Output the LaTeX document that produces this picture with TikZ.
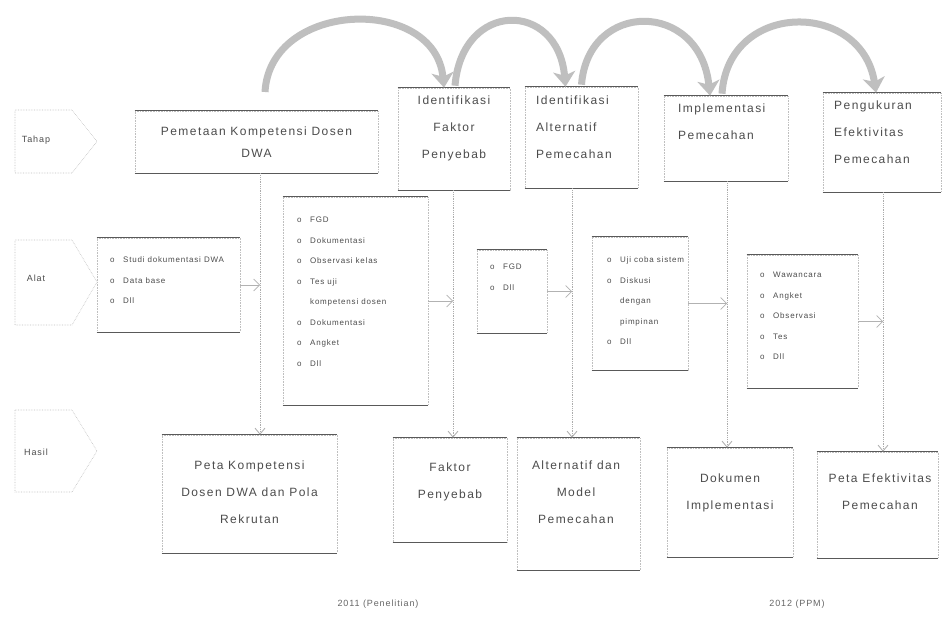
\documentclass[tikz,border=0pt]{standalone}
\usepackage{fontspec}
\setmainfont{Liberation Sans}
\newfontfamily\boxfont[LetterSpace=12]{Liberation Sans}
\newfontfamily\listfont[LetterSpace=10]{Liberation Sans}
\usetikzlibrary{arrows.meta}
\newcommand\lbul{\makebox[13pt][l]{o}}
\newcommand\lind{\hspace*{13pt}}
\begin{document}
\begin{tikzpicture}[x=1pt,y=-1pt,
  box/.style={draw=gray!50, densely dotted, line width=0.6pt, inner sep=0pt},
  edge/.style={draw=black!65, line width=1.1pt},
  btxt/.style={font={\boxfont\fontsize{12}{27}\selectfont}, text=black!70, inner sep=0pt, align=center, anchor=north},
  ltop/.style={font={\boxfont\fontsize{12}{27}\selectfont}, text=black!70, inner sep=0pt, align=left, anchor=north west},
  ltxt/.style={font={\listfont\fontsize{8}{20.5}\selectfont}, text=black!70, inner sep=0pt, align=left, anchor=north west},
  ptxt/.style={font={\listfont\fontsize{9}{11}\selectfont}, text=black!70, inner sep=0pt},
  capt/.style={font={\listfont\fontsize{9}{11}\selectfont}, text=black!60, inner sep=0pt},
  pent/.style={draw=gray!50, densely dotted, line width=0.6pt},
  vline/.style={draw=gray!65, densely dotted, line width=0.8pt, -{Straight Barb[length=6pt,width=10pt]}},
  harr/.style={draw=gray!60, line width=0.7pt, -{Straight Barb[length=6pt,width=12pt]}},
  curve/.style={draw=gray!50, line width=7pt, -{Stealth[length=15pt,width=22pt,inset=4pt]}}
]
\useasboundingbox (0,0) rectangle (943,618);
\fill[white] (0,0) rectangle (943,618);

% left pentagons
\draw[pent] (15,110) -- (72,110) -- (97,141.5) -- (72,173) -- (15,173) -- cycle;
\draw[pent] (15,240) -- (72,240) -- (97,282) -- (72,325) -- (15,325) -- cycle;
\draw[pent] (15,410) -- (72,410) -- (97,451) -- (72,492) -- (15,492) -- cycle;
\node[ptxt] (p1) at (36,140) {Tahap};
\node[ptxt] (p2) at (36,278) {Alat};
\node[ptxt] (p3) at (36,452) {Hasil};

% top row
\node[box, minimum width=243, minimum height=62] (t1) at (256.5,142) {};
\node[box, minimum width=112, minimum height=102] (t2) at (454,139) {};
\node[box, minimum width=113, minimum height=101] (t3) at (581.5,137.5) {};
\node[box, minimum width=124, minimum height=85] (t4) at (726,138.5) {};
\node[box, minimum width=118, minimum height=99] (t5) at (882,142.5) {};

% middle row
\node[box, minimum width=143, minimum height=94] (ma) at (168.5,285) {};
\node[box, minimum width=145, minimum height=208] (mb) at (355.5,301) {};
\node[box, minimum width=70, minimum height=83] (mc) at (512,291.5) {};
\node[box, minimum width=96, minimum height=133] (md) at (640,303.5) {};
\node[box, minimum width=111, minimum height=133] (me) at (802.5,321.5) {};

% bottom row
\node[box, minimum width=175, minimum height=118] (b1) at (249.5,494) {};
\node[box, minimum width=114, minimum height=104] (b2) at (450,490) {};
\node[box, minimum width=123, minimum height=132] (b3) at (578.5,504) {};
\node[box, minimum width=126, minimum height=109] (b4) at (730,502.5) {};
\node[box, minimum width=121, minimum height=106] (b5) at (877.5,505) {};

\foreach \n in {t1,t2,t3,t4,t5,ma,mb,mc,md,me,b1,b2,b3,b4,b5}{
  \draw[edge] (\n.north west) -- (\n.north east);
  \draw[edge] (\n.south west) -- (\n.south east);
}

% texts
\node[btxt, font={\boxfont\fontsize{12}{22}\selectfont}] (t1l) at (256.5,127) {Pemetaan Kompetensi Dosen\\DWA};
\node[btxt] (t2l) at (454,95.6) {Identifikasi\\Faktor\\Penyebab};
\node[ltop] (t3l) at (536,95.6) {Identifikasi\\Alternatif\\Pemecahan};
\node[ltop] (t4l) at (678,103.6) {Implementasi\\Pemecahan};
\node[ltop] (t5l) at (834,100.6) {Pengukuran\\Efektivitas\\Pemecahan};

\node[ltxt] (mal) at (110,257) {\lbul Studi dokumentasi DWA\\\lbul Data base\\\lbul Dll};
\node[ltxt] (mbl) at (297,217) {\lbul FGD\\\lbul Dokumentasi\\\lbul Observasi kelas\\\lbul Tes uji\\\lind kompetensi dosen\\\lbul Dokumentasi\\\lbul Angket\\\lbul Dll};
\node[ltxt] (mcl) at (490,264) {\lbul FGD\\\lbul Dll};
\node[ltxt] (mdl) at (607,257) {\lbul Uji coba sistem\\\lbul Diskusi\\\lind dengan\\\lind pimpinan\\\lbul Dll};
\node[ltxt] (mel) at (760,272) {\lbul Wawancara\\\lbul Angket\\\lbul Observasi\\\lbul Tes\\\lbul Dll};

\node[btxt] (b1l) at (249.5,460.6) {Peta Kompetensi\\Dosen DWA dan Pola\\Rekrutan};
\node[btxt] (b2l) at (450,462.6) {Faktor\\Penyebab};
\node[btxt] (b3l) at (576,460.6) {Alternatif dan\\Model\\Pemecahan};
\node[btxt] (b4l) at (730,473.6) {Dokumen\\Implementasi};
\node[btxt] (b5l) at (880,473.6) {Peta Efektivitas\\Pemecahan};

% captions
\node[capt] (cap1) at (378,604) {2011 (Penelitian)};
\node[capt] (cap2) at (797,604) {2012 (PPM)};

% vertical connectors
\coordinate (v1x) at (260,0);
\coordinate (v2x) at (453,0);
\coordinate (v3x) at (572,0);
\coordinate (v4x) at (727,0);
\coordinate (v5x) at (883,0);
\draw[vline] (t1.south -| v1x) -- (b1.north -| v1x);
\draw[vline] (t2.south -| v2x) -- (b2.north -| v2x);
\draw[vline] (t3.south -| v3x) -- (b3.north -| v3x);
\draw[vline] (t4.south -| v4x) -- (b4.north -| v4x);
\draw[vline] (t5.south -| v5x) -- (b5.north -| v5x);

% horizontal arrows
\draw[harr] (ma.east) -- (ma.east -| v1x);
\draw[harr] (mb.east) -- (mb.east -| v2x);
\draw[harr] (mc.east) -- (mc.east -| v3x);
\draw[harr] (md.east) -- (md.east -| v4x);
\draw[harr] (me.east) -- (me.east -| v5x);

% top curved arrows
\coordinate (c1) at (265,92);
\draw[curve] (c1) .. controls (270,0) and (435,-5) .. ([xshift=-10pt]t2.north);
\draw[curve] ([xshift=1pt,yshift=2pt]t2.north) .. controls (462,0) and (558,0) .. ([xshift=-16pt]t3.north);
\draw[curve] ([yshift=2pt]t3.north) .. controls (588,0) and (700,0) .. ([xshift=-16pt]t4.north);
\draw[curve] ([xshift=-4pt,yshift=2pt]t4.north) .. controls (728,0) and (862,0) .. ([xshift=-6pt]t5.north);
\end{tikzpicture}
\end{document}
